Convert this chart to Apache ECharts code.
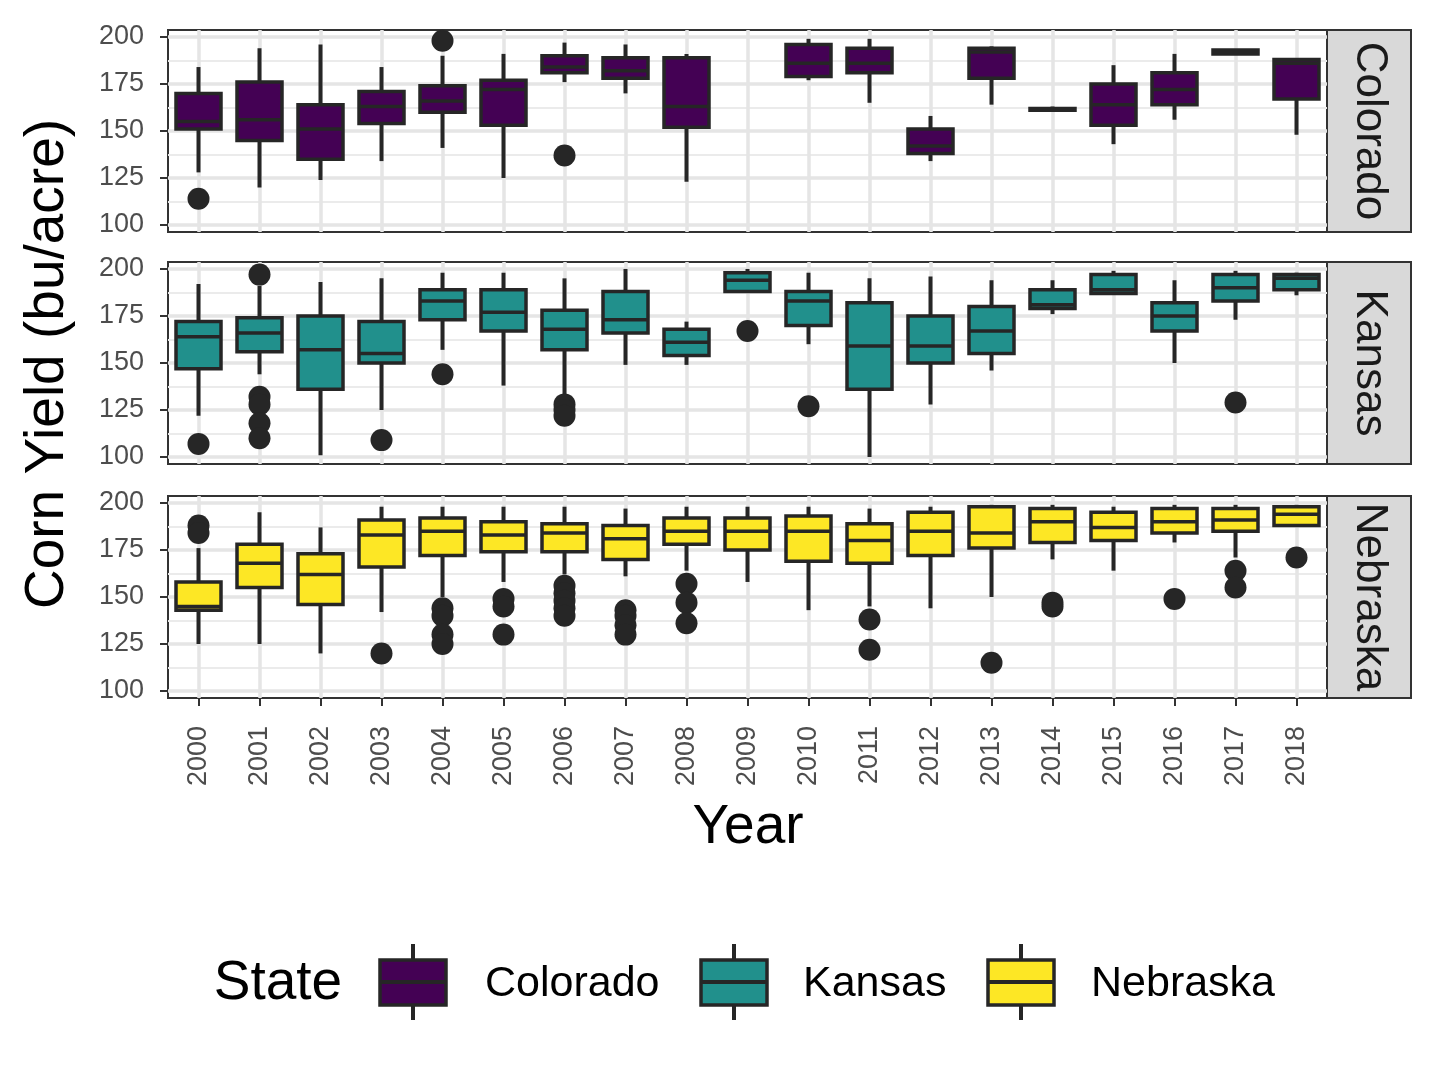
<!DOCTYPE html>
<html>
<head>
<meta charset="utf-8">
<script src="https://cdn.jsdelivr.net/npm/echarts@6/dist/echarts.min.js"></script>
<style>html,body{margin:0;padding:0;background:#fff}#main{width:1440px;height:1080px}</style>
</head>
<body>
<div id="main"></div>
<script>
var years = ['2000','2001','2002','2003','2004','2005','2006','2007','2008','2009','2010','2011','2012','2013','2014','2015','2016','2017','2018'];
var states = ['Colorado', 'Kansas', 'Nebraska'];
var stateColors = ['#440154', '#21908C', '#FDE725'];
var yTicks = [100, 125, 150, 175, 200];
var yMinor = [112.5, 137.5, 162.5, 187.5];

// [min, Q1, median, Q3, max]
var coloradoBox = [
  [128,151,155,170,184],[120,145,156,176,194],[124,135,151,164,196],[134,154,163,171,184],
  [141,160,166,174,190],[125,153,172,177,191],[176,181,184,190,197],[170,178,182,189,196],
  [123,152,163,189,191],'-',[177,179,186,196,199],[165,181,186,194,199],
  [134,138,142,151,158],[164,178,192,194,195],[161,161,162,162,163],[143,153,164,175,185],
  [156,164,172,181,191],[191,191,192,193,193],[148,167,186,188,188]
];
var kansasBox = [
  [122,147,164,172,192],[144,156,166,174,191],[101,136,157,175,193],[125,150,155,172,195],
  [157,173,183,189,198],[138,167,177,189,198],[133,157,168,178,195],[149,166,173,188,200],
  [149,154,161,168,172],[188,188,194,198,200],[160,170,183,188,198],[100,136,159,182,195],
  [128,150,159,175,196],[146,155,167,180,194],[176,179,181,189,194],[187,187,189,197,199],
  [150,167,175,182,194],[173,183,190,197,199],[186,189,195,197,198]
];
var nebraskaBox = [
  [125,143,145,158,176],[125,155,168,178,195],[120,146,162,173,187],[142,166,183,191,198],
  [150,172,185,192,198],[158,174,183,190,198],[162,174,184,189,198],[161,170,181,188,197],
  [164,178,185,192,198],[158,175,185,192,198],[143,169,185,193,198],[145,168,180,189,197],
  [144,172,185,195,198],[150,176,184,198,199],[170,179,190,197,199],[164,180,187,195,198],
  [179,184,190,197,199],[171,185,191,197,199],[188,188,194,198,199]
];
var coloradoOut = [['2000',114],['2004',198],['2006',137]];
var kansasOut = [['2000',107],['2001',197],['2001',132],['2001',128],['2001',118],['2001',110],
  ['2003',109],['2004',144],['2006',128],['2006',125],['2006',122],['2009',167],['2010',127],['2017',129]];
var nebraskaOut = [['2000',188],['2000',184],['2003',120],['2004',144],['2004',140],['2004',130],['2004',125],
  ['2005',149],['2005',145],['2005',130],['2006',156],['2006',152],['2006',148],['2006',144],['2006',140],
  ['2007',143],['2007',140],['2007',135],['2007',130],['2008',157],['2008',147],['2008',136],
  ['2011',138],['2011',122],['2013',115],['2014',147],['2014',145],['2016',149],['2017',164],['2017',155],['2018',171]];

var boxes = [coloradoBox, kansasBox, nebraskaBox];
var outs = [coloradoOut, kansasOut, nebraskaOut];
var gridTops = [30, 262, 496];
var gridH = 202;
var plotLeft = 168, plotW = 1159;
var font = 'Liberation Sans';

var grids = [], xAxes = [], yAxes = [], series = [], graphics = [];
states.forEach(function (st, i) {
  grids.push({left: plotLeft, top: gridTops[i], width: plotW, height: gridH,
    show: true, borderColor: '#333', borderWidth: 2, backgroundColor: '#fff'});
  xAxes.push({type: 'category', gridIndex: i, data: years, boundaryGap: true,
    axisLine: {show: false},
    axisTick: {show: i === 2, alignWithLabel: true, length: 8, lineStyle: {color: '#333', width: 2}},
    axisLabel: {show: i === 2, rotate: 90, fontSize: 27, color: '#4d4d4d', fontFamily: font, margin: 28},
    splitLine: {show: false}});
  yAxes.push({type: 'value', gridIndex: i, min: 96.3, max: 203.7,
    axisLine: {show: false},
    axisTick: {show: true, length: 8, lineStyle: {color: '#333', width: 2}, customValues: yTicks},
    axisLabel: {fontSize: 27, color: '#4d4d4d', fontFamily: font, margin: 24, customValues: yTicks},
    splitLine: {show: false}});
  var ml = [];
  yMinor.forEach(function (v) { ml.push({yAxis: v, lineStyle: {color: '#ebebeb', width: 1.8}}); });
  yTicks.forEach(function (v) { ml.push({yAxis: v, lineStyle: {color: '#e5e5e5', width: 3.5}}); });
  years.forEach(function (y) { ml.push({xAxis: y, lineStyle: {color: '#e5e5e5', width: 3.5}}); });
  series.push({type: 'line', xAxisIndex: i, yAxisIndex: i, data: [], silent: true, zlevel: 0, z: 1,
    markLine: {silent: true, symbol: 'none', label: {show: false}, lineStyle: {type: 'solid'}, data: ml, animation: false}});
  // whiskers (no caps, as in ggplot)
  var wdata = [];
  boxes[i].forEach(function (b, k) { if (b !== '-') wdata.push([k, b[0], b[4]]); });
  series.push({type: 'custom', xAxisIndex: i, yAxisIndex: i, zlevel: 1, z: 2, data: wdata,
    renderItem: function (params, api) {
      var p1 = api.coord([api.value(0), api.value(1)]);
      var p2 = api.coord([api.value(0), api.value(2)]);
      return {type: 'line', shape: {x1: p1[0], y1: p1[1], x2: p2[0], y2: p2[1]},
        style: {stroke: '#262626', lineWidth: 4}};
    }});
  var bdata = boxes[i].map(function (b) { return b === '-' ? '-' : [b[1], b[1], b[2], b[3], b[3]]; });
  series.push({name: st, type: 'boxplot', xAxisIndex: i, yAxisIndex: i, data: bdata, zlevel: 1, z: 3,
    boxWidth: [45, 45],
    itemStyle: {color: stateColors[i], borderColor: '#262626', borderWidth: 3.5}});
  series.push({type: 'scatter', xAxisIndex: i, yAxisIndex: i, data: outs[i], zlevel: 1, z: 4,
    symbolSize: 22, itemStyle: {color: '#262626', opacity: 1}});
  graphics.push({type: 'rect', shape: {x: 1327, y: gridTops[i], width: 84, height: gridH},
    style: {fill: '#d9d9d9', stroke: '#333', lineWidth: 2}});
  graphics.push({type: 'text', x: 1369, y: gridTops[i] + gridH / 2, rotation: -Math.PI / 2,
    style: {text: st, fontSize: 44, fill: '#1a1a1a', fontFamily: font, align: 'center', verticalAlign: 'middle'}});
});

graphics.push({type: 'text', x: 48, y: 364, rotation: Math.PI / 2,
  style: {text: 'Corn Yield (bu/acre)', fontSize: 55, fill: '#000', fontFamily: font, align: 'center', verticalAlign: 'middle'}});
graphics.push({type: 'text', x: 748, y: 828,
  style: {text: 'Year', fontSize: 55, fill: '#000', fontFamily: font, align: 'center', verticalAlign: 'middle'}});
graphics.push({type: 'text', x: 278, y: 984,
  style: {text: 'State', fontSize: 55, fill: '#000', fontFamily: font, align: 'center', verticalAlign: 'middle'}});
var keyX = [413, 734, 1021], labX = [485, 803, 1091];
states.forEach(function (st, i) {
  graphics.push({type: 'line', shape: {x1: keyX[i], y1: 944, x2: keyX[i], y2: 1020}, style: {stroke: '#262626', lineWidth: 4}});
  graphics.push({type: 'rect', shape: {x: keyX[i] - 33, y: 960, width: 66, height: 45},
    style: {fill: stateColors[i], stroke: '#262626', lineWidth: 3.5}});
  graphics.push({type: 'line', shape: {x1: keyX[i] - 33, y1: 982, x2: keyX[i] + 33, y2: 982}, style: {stroke: '#262626', lineWidth: 4}});
  graphics.push({type: 'text', x: labX[i], y: 984,
    style: {text: st, fontSize: 43, fill: '#000', fontFamily: font, align: 'left', verticalAlign: 'middle'}});
});

var myChart = echarts.init(document.getElementById('main'));
myChart.setOption({
  animation: false,
  grid: grids, xAxis: xAxes, yAxis: yAxes, series: series, graphic: graphics
});
</script>
</body>
</html>
